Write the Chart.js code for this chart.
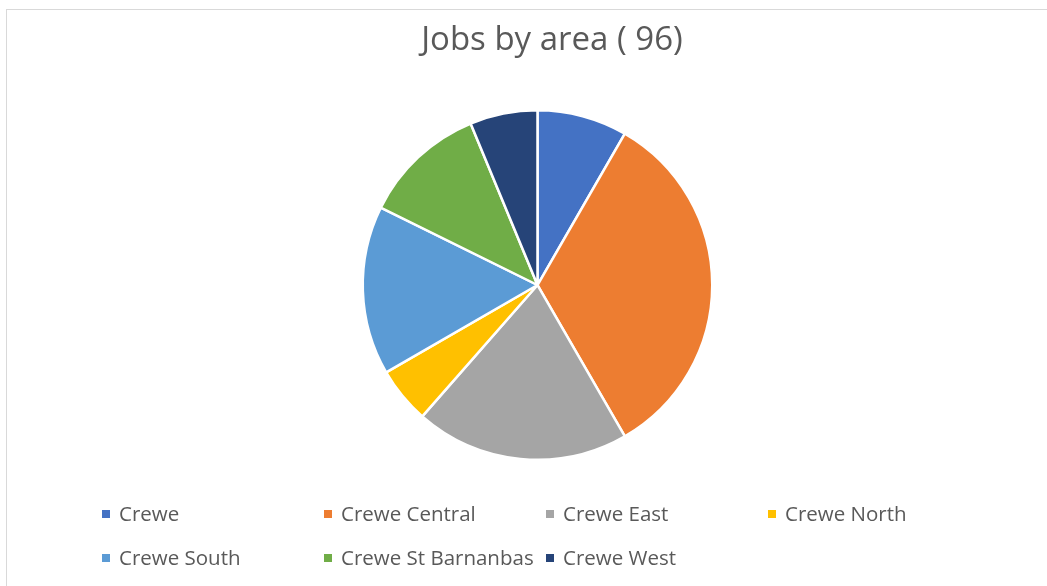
<!DOCTYPE html>
<html>
<head>
<meta charset="utf-8">
<script src="https://cdn.jsdelivr.net/npm/chart.js@4"></script>
<style>
    body { margin: 0; background: #fff; }
    #wrap { position: relative; width: 1047px; height: 586px; overflow: hidden; }
    #frame { position: absolute; left: 6px; top: 9px; width: 1100px; height: 700px; border: 1px solid #d9d9d9; box-sizing: border-box; }
    #jobs-pie { position: absolute; left: 0; top: 0; }
    #title { position: absolute; left: 352px; width: 400px; top: 15px; text-align: center; font-family: "Open Sans", sans-serif; font-size: 33px; color: #595959; white-space: nowrap; }
    #legend { position: absolute; left: 0; top: 0; font-family: "Open Sans", sans-serif; font-size: 20.5px; color: #595959; }
    .item { position: absolute; white-space: nowrap; line-height: 24px; }
    .box { position: absolute; width: 8px; height: 8px; left: 0; top: 6px; }
    .txt { position: absolute; left: 17px; top: -3px; }
</style>
</head>
<body>
<div id="wrap">
    <div id="frame"></div>
    <canvas id="jobs-pie" width="1047" height="586"></canvas>
    <div id="title"></div>
    <div id="legend"></div>
</div>
<script>
// Jobs by area - pie
const AREAS = ['Crewe', 'Crewe Central', 'Crewe East', 'Crewe North', 'Crewe South', 'Crewe St Barnanbas', 'Crewe West'];
const JOBS = [8, 32, 19, 5, 15, 11, 6];
const COLOURS = ['#4472C4', '#ED7D31', '#A5A5A5', '#FFC000', '#5B9BD5', '#70AD47', '#264478'];
const TITLE = 'Jobs by area ( ' + JOBS.reduce((a, b) => a + b, 0) + ')';

document.getElementById('title').textContent = TITLE;

// legend laid out in fixed columns like the original
const legend = document.getElementById('legend');
AREAS.forEach((area, i) => {
    const col = i % 4;
    const row = Math.floor(i / 4);
    const item = document.createElement('div');
    item.className = 'item';
    item.style.left = (102 + col * 222) + 'px';
    item.style.top = (504 + row * 44) + 'px';
    item.innerHTML = '<span class="box" style="background:' + COLOURS[i] + '"></span><span class="txt"></span>';
    item.querySelector('.txt').textContent = area;
    legend.appendChild(item);
});

const canvas = document.getElementById('jobs-pie');
new Chart(canvas, {
    type: 'pie',
    data: {
        labels: AREAS,
        datasets: [{
            data: JOBS,
            backgroundColor: COLOURS,
            borderColor: '#fff',
            borderWidth: 2.5
        }]
    },
    options: {
        responsive: false,
        animation: false,
        layout: {
            padding: { top: 109, bottom: 125, left: 28, right: 0 }
        },
        plugins: {
            legend: { display: false },
            tooltip: { enabled: false },
            title: { display: false }
        }
    }
});
</script>
</body>
</html>
